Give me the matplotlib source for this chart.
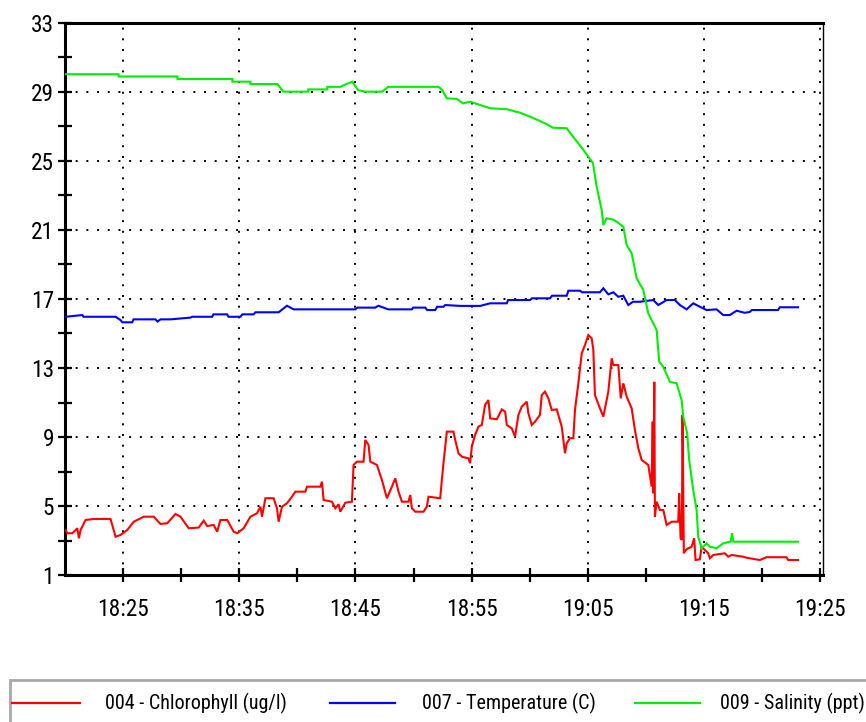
import matplotlib
matplotlib.use("Agg")
import os
import matplotlib.pyplot as plt
from matplotlib.lines import Line2D
from matplotlib.patches import Rectangle
import matplotlib.font_manager as fm

# ---------------- data (time in minutes after 18:00) ----------------
sal_t = [20.05, 24.61, 24.61, 29.68, 29.68, 34.41, 34.41, 35.96, 35.96, 38.28, 38.80, 40.95, 40.95,
         42.58, 42.58, 43.70, 44.22, 44.73, 45.25, 45.85, 47.31, 47.82, 52.13, 52.44, 52.87, 53.73,
         54.27, 54.87, 55.99, 56.59, 58.03, 59.17, 60.03, 60.89, 61.47, 62.01, 63.19, 63.73, 64.59,
         65.45, 65.77, 66.20, 66.34, 66.63, 67.20, 67.49, 68.06, 68.35, 68.78, 69.21, 69.78, 70.21,
         70.93, 71.15, 71.50, 72.07, 72.65, 73.08, 73.22, 73.56, 73.73, 74.08, 74.37, 74.51, 74.80,
         75.23, 75.51, 76.09, 76.66, 77.29, 77.43, 77.52, 83.10]
sal_v = [30.03, 30.03, 29.90, 29.90, 29.75, 29.75, 29.60, 29.60, 29.46, 29.46, 29.02, 29.02, 29.15,
         29.15, 29.30, 29.30, 29.46, 29.60, 29.10, 29.02, 29.02, 29.30, 29.30, 29.15, 28.63, 28.60,
         28.34, 28.44, 28.19, 28.06, 28.00, 27.80, 27.57, 27.32, 27.13, 26.93, 26.90, 26.41, 25.68,
         24.87, 23.50, 22.16, 21.29, 21.68, 21.60, 21.48, 21.19, 20.13, 19.65, 18.20, 17.52, 16.17,
         15.20, 13.37, 13.07, 12.20, 12.11, 11.14, 10.18, 9.21, 7.67, 5.93, 4.77, 3.22, 2.55,
         2.84, 2.64, 2.55, 2.84, 2.93, 3.42, 2.93, 2.93]

tmp_t = [20.05, 21.49, 21.60, 24.35, 24.78, 24.93, 25.79, 25.90, 27.79, 27.96, 28.22, 29.08, 30.80,
         30.95, 32.67, 32.78, 33.96, 34.07, 35.10, 35.27, 36.24, 36.39, 38.39, 39.11, 39.68, 44.99,
         45.16, 46.71, 46.97, 47.82, 49.86, 49.97, 51.01, 51.18, 51.87, 52.04, 52.58, 52.73, 54.02,
         55.74, 56.60, 58.03, 58.14, 60.03, 60.20, 61.75, 61.93, 63.19, 63.33, 64.34, 64.51, 66.05,
         66.34, 66.77, 67.20, 67.63, 68.06, 68.49, 68.89, 69.49, 70.64, 71.07, 71.79, 72.50, 72.93,
         73.51, 74.08, 74.65, 75.23, 76.09, 76.66, 77.23, 77.81, 78.52, 78.95, 79.12, 81.38, 81.53,
         83.10]
tmp_v = [15.97, 16.07, 15.97, 15.97, 15.78, 15.65, 15.65, 15.82, 15.82, 15.69, 15.82, 15.82, 15.92,
         15.97, 15.97, 16.11, 16.11, 15.97, 15.97, 16.11, 16.11, 16.23, 16.23, 16.61, 16.40, 16.40,
         16.50, 16.50, 16.61, 16.40, 16.40, 16.50, 16.50, 16.36, 16.36, 16.55, 16.55, 16.65, 16.60,
         16.60, 16.75, 16.75, 16.94, 16.94, 17.04, 17.04, 17.19, 17.19, 17.48, 17.48, 17.39, 17.39,
         17.62, 17.27, 17.39, 17.13, 17.19, 16.65, 16.84, 16.84, 16.94, 16.65, 16.94, 16.94, 16.65,
         16.40, 16.75, 16.55, 16.36, 16.40, 16.07, 16.07, 16.32, 16.20, 16.25, 16.36, 16.36, 16.52,
         16.52]

chl_t = [20.05, 20.20, 20.63, 21.06, 21.20, 21.34, 21.77, 22.48, 23.92, 24.35, 24.78, 25.36, 25.92,
         26.78, 27.64, 28.22, 28.80, 29.51, 29.94, 30.65, 31.51, 31.94, 32.24, 32.80, 33.10, 33.38,
         33.96, 34.52, 34.82, 35.38, 35.96, 36.53, 36.82, 36.96, 37.25, 37.96, 38.25, 38.39, 38.68,
         39.11, 39.54, 39.83, 40.69, 40.83, 41.98, 42.12, 42.26, 42.98, 43.27, 43.55, 43.70, 44.13,
         44.70, 44.84, 45.13, 45.70, 45.85, 46.13, 46.28, 46.85, 47.28, 47.71, 48.14, 48.43, 48.71,
         49.00, 49.57, 49.72, 49.86, 50.15, 50.86, 51.15, 51.29, 52.30, 52.44, 52.58, 52.87, 53.44,
         53.59, 53.87, 54.16, 54.73, 54.87, 55.02, 55.30, 55.59, 55.88, 56.16, 56.45, 56.60, 57.17,
         57.60, 57.89, 58.03, 58.46, 58.74, 59.03, 59.32, 59.75, 59.89, 60.18, 60.46, 60.89, 61.04,
         61.32, 61.61, 61.90, 62.33, 62.76, 63.04, 63.19, 63.47, 63.76, 63.90, 64.19, 64.48, 64.76,
         65.05, 65.34, 65.48, 65.62, 66.05, 66.34, 66.77, 67.06, 67.20, 67.63, 67.84, 68.06, 68.35,
         68.78, 69.06, 69.35, 69.64, 70.21, 70.50, 70.59, 70.64, 70.73, 70.78, 70.93, 71.21, 71.50,
         71.79, 72.22, 72.79, 72.87, 72.99, 73.10, 73.16, 73.27, 73.45, 73.65, 73.94, 74.16, 74.28,
         74.65, 74.80, 75.08, 75.37, 75.51, 75.80, 76.80, 77.09, 77.38, 78.38, 78.67, 79.81, 80.39,
         82.11, 82.25, 83.10]
chl_v = [3.61, 3.42, 3.42, 3.71, 3.13, 3.61, 4.19, 4.25, 4.25, 3.22, 3.32, 3.61, 4.09,
         4.38, 4.38, 3.96, 4.00, 4.54, 4.38, 3.71, 3.75, 4.15, 3.84, 3.90, 3.51, 4.19,
         4.19, 3.51, 3.42, 3.71, 4.38, 4.58, 4.96, 4.38, 5.45, 5.45, 4.87, 4.09, 4.96,
         5.16, 5.54, 5.83, 5.83, 6.12, 6.12, 6.41, 5.35, 5.25, 4.87, 5.10, 4.67, 5.19,
         5.25, 7.38, 7.57, 7.57, 8.83, 8.54, 7.57, 7.38, 6.51, 5.45, 6.12, 6.61, 5.83,
         5.25, 5.25, 5.64, 4.87, 4.67, 4.67, 4.96, 5.54, 5.45, 6.51, 7.48, 9.31, 9.31,
         8.83, 8.06, 7.86, 7.76, 7.48, 8.44, 9.12, 9.60, 9.70, 10.86, 11.14, 10.08, 10.03,
         10.60, 10.47, 9.70, 9.50, 9.02, 10.28, 10.76, 11.05, 10.37, 9.70, 9.89, 10.28, 11.43,
         11.63, 11.24, 10.57, 10.60, 9.60, 8.06, 8.64, 8.93, 8.93, 10.57, 12.11, 13.85, 14.33,
         14.91, 14.72, 14.04, 11.43, 10.66, 10.18, 11.63, 13.56, 13.17, 13.17, 11.24, 12.11, 11.34,
         10.66, 9.41, 8.35, 7.67, 7.38, 6.12, 9.89, 5.74, 12.20, 4.38, 5.25, 4.77, 4.77,
         3.90, 4.09, 4.09, 5.74, 3.13, 3.03, 10.28, 2.26, 2.45, 2.55, 2.64, 3.13, 1.87,
         1.91, 2.64, 2.45, 2.26, 1.97, 2.16, 2.26, 2.06, 2.16, 2.06, 2.00, 1.87, 2.03,
         2.03, 1.87, 1.87]

x_major = [25, 35, 45, 55, 65, 75, 85]
x_minor = [30, 40, 50, 60, 70, 80]
y_major = [1, 5, 9, 13, 17, 21, 25, 29, 33]
y_minor = [3, 7, 11, 15, 19, 23, 27, 31]

series_names = ["004 - Chlorophyll (ug/l)", "007 - Temperature (C)", "009 - Salinity (ppt)"]
series_colors = ["#ff0000", "#0000ff", "#00ee00"]

# ---------------- font: look for a narrow / condensed sans ----------------
def pick_narrow():
    bad = ("bold", "italic", "oblique", "light", "thin", "black", "medium", "semi", "extra", "ultra")
    cands = []
    for f in fm.fontManager.ttflist:
        base = os.path.basename(f.fname).lower()
        if ("narrow" in base or "condensed" in base) and not any(b in base for b in bad):
            if "liberationsansnarrow" in base:
                rank = 0
            elif "notosans" in base and "cjk" not in base and "mono" not in base:
                rank = 1
            elif "roboto" in base:
                rank = 2
            elif "opensans" in base:
                rank = 3
            elif "dejavusans" in base and "mono" not in base:
                rank = 4
            else:
                rank = 9
            cands.append((rank, f.fname))
    if cands:
        cands.sort()
        return fm.FontProperties(fname=cands[0][1]), cands[0][0]
    return fm.FontProperties(family="Liberation Sans"), 10

fp_base, frank = pick_narrow()
tick_size = {0: 17.5, 1: 16.5, 2: 16.8, 3: 15.5, 4: 14.5}.get(frank, 14)
leg_size = {0: 15.5, 1: 14.5, 2: 14.5, 3: 13.5, 4: 13}.get(frank, 12.5)

def fp(size):
    p = fp_base.copy()
    p.set_size(size)
    return p

def tlabel(m):
    return f"{18 + m // 60}:{m % 60:02d}"

fig = plt.figure(figsize=(8.66, 7.22), dpi=100)
ax = fig.add_axes([65 / 866, 1 - 575 / 722, (823 - 65) / 866, (575 - 23) / 722])

for t, v, c, z in [(chl_t, chl_v, series_colors[0], 3), (tmp_t, tmp_v, series_colors[1], 4),
                   (sal_t, sal_v, series_colors[2], 5)]:
    ax.plot(t, v, color=c, lw=1.5, zorder=z, solid_joinstyle="miter")

ax.set_xlim(20.0, 85.25)
ax.set_ylim(1, 33)
ax.set_xticks(x_major)
ax.set_xticklabels([tlabel(m) for m in x_major], fontproperties=fp(tick_size))
ax.set_xticks(x_minor, minor=True)
ax.set_yticks(y_major)
ax.set_yticklabels([str(v) for v in y_major], fontproperties=fp(tick_size))
ax.set_yticks(y_minor, minor=True)

ax.tick_params(axis="both", which="both", direction="inout", length=9.5, width=1.6, color="black")
ax.tick_params(axis="x", which="major", pad=12)
ax.tick_params(axis="y", which="major", pad=3)
ax.tick_params(top=False, right=False, which="both")

ax.grid(True, which="major", color="black", linestyle=(0, (1, 4.5)), linewidth=1.4)

for side in ["left", "bottom", "top"]:
    ax.spines[side].set_linewidth(2.2)
    ax.spines[side].set_color("black")
ax.spines["right"].set_linewidth(1.0)
ax.spines["right"].set_color("black")

# ---------------- legend box ----------------
fig.patches.append(Rectangle((10 / 866, -0.05), 1.0, (722 - 680) / 722 + 0.05,
                             transform=fig.transFigure, facecolor="white",
                             edgecolor="#a8a8a8", linewidth=2.0))
ly = 1 - 703 / 722
line_x = [(12, 80), (330, 395), (635, 700)]
text_x = [105, 422, 720]
for (x0, x1), tx, name, col in zip(line_x, text_x, series_names, series_colors):
    fig.lines.append(Line2D([x0 / 866, x1 / 866], [ly, ly], transform=fig.transFigure,
                            color=col, lw=1.6))
    fig.text(tx / 866, ly, name, ha="left", va="center", fontproperties=fp(leg_size))

fig.savefig("out.png", dpi=100)
